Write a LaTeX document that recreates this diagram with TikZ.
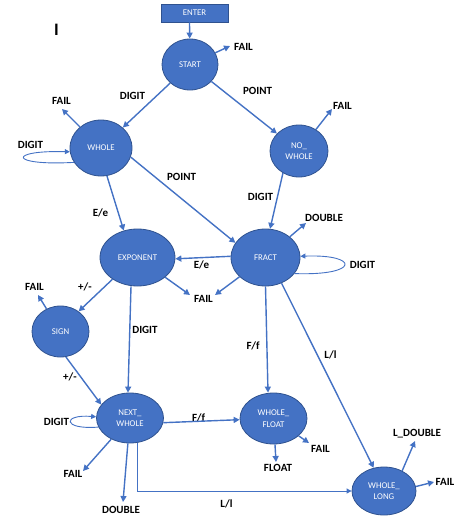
\documentclass[tikz,border=0pt]{standalone}
\usepackage{fontspec}
\setmainfont{Carlito}
\usetikzlibrary{shapes.geometric,arrows.meta}
\definecolor{nodeblue}{HTML}{4472C4}
\definecolor{nodeborder}{HTML}{2F528F}
\begin{document}
\begin{tikzpicture}[x=1pt,y=-1pt,
  state/.style={ellipse,fill=nodeblue,draw=nodeborder,line width=0.8pt,inner sep=0pt,text=white,font=\fontsize{8.8}{11.5}\selectfont,align=center},
  entrybox/.style={rectangle,fill=nodeblue,draw=nodeborder,line width=0.8pt,inner sep=0pt,text=white,font=\fontsize{8.8}{11.5}\selectfont},
  lbl/.style={font=\bfseries\fontsize{11}{13}\selectfont,inner sep=0pt,text height=7.1pt,text depth=0pt},
  arr/.style={draw=nodeblue,line width=1.4pt,-{Triangle[length=6pt,width=6pt]}},
  selfloop/.style={draw=nodeblue,line width=0.9pt,-{Triangle[length=5pt,width=5pt]}},
]
\useasboundingbox (0,0) rectangle (468,519);

% states
\node[entrybox,minimum width=67pt,minimum height=18pt] (ENTER) at (194.5,13) {ENTER};
\node[state,minimum width=56pt,minimum height=51pt] (START) at (190,64.5) {START};
\node[state,minimum width=62pt,minimum height=56pt] (WHOLE) at (101,148) {WHOLE};
\node[state,minimum width=58pt,minimum height=52pt] (NOWHOLE) at (299,151) {NO\_\\WHOLE};
\node[state,minimum width=69pt,minimum height=57pt] (FRACT) at (265.5,257.5) {FRACT};
\node[state,minimum width=75pt,minimum height=57pt] (EXPONENT) at (137.5,257.5) {EXPONENT};
\node[state,minimum width=57pt,minimum height=51pt] (SIGN) at (60.5,331.5) {SIGN};
\node[state,minimum width=67pt,minimum height=50pt] (NEXTWHOLE) at (130,418) {NEXT\_\\WHOLE};
\node[state,minimum width=67pt,minimum height=51pt] (WHOLEFLOAT) at (273.5,418.5) {WHOLE\_\\FLOAT};
\node[state,minimum width=64pt,minimum height=48pt] (WHOLELONG) at (384,491) {WHOLE\_\\LONG};

% stray mark
\node[font=\bfseries\fontsize{17.5}{19}\selectfont,inner sep=0pt] (mark) at (56.5,29.5) {I};

% free ends
\coordinate (fStart) at (230,46);
\coordinate (fWhole) at (62,109);
\coordinate (fNo) at (332,109);
\coordinate (dFract) at (306,223);
\coordinate (fExp) at (190,295);
\coordinate (fFract) at (215,295);
\coordinate (fSign) at (38,295);
\coordinate (fNext) at (83,471);
\coordinate (dNext) at (123,502);
\coordinate (flFloat) at (276,462);
\coordinate (fFloat) at (309,443);
\coordinate (ldLong) at (415,441);
\coordinate (fLong) at (434,482);

% labels
\node[lbl] (tFail1) at (243.5,46.5) {FAIL};
\node[lbl] (tDigit1) at (132.5,96) {DIGIT};
\node[lbl] (tPoint1) at (257.5,91) {POINT};
\node[lbl] (tFail2) at (61.5,101) {FAIL};
\node[lbl] (tDigit2) at (30.5,144.5) {DIGIT};
\node[lbl] (tFail3) at (342.5,105.5) {FAIL};
\node[lbl] (tPoint2) at (181.5,177) {POINT};
\node[lbl] (tDigit3) at (260.5,197) {DIGIT};
\node[lbl] (tEe1) at (100.5,212.5) {E/e};
\node[lbl] (tDouble1) at (324,217.5) {DOUBLE};
\node[lbl] (tDigit4) at (362.5,264.5) {DIGIT};
\node[lbl] (tEe2) at (201.5,264.5) {E/e};
\node[lbl] (tFail4) at (203.5,299) {FAIL};
\node[lbl] (tFail5) at (34.5,287) {FAIL};
\node[lbl] (tPm1) at (85,287) {+/-};
\node[lbl] (tDigit5) at (145,330) {DIGIT};
\node[lbl] (tFf1) at (253,345.5) {F/f};
\node[lbl] (tLl1) at (330.5,354.5) {L/l};
\node[lbl] (tPm2) at (70,377) {+/-};
\node[lbl] (tDigit6) at (56.5,422) {DIGIT};
\node[lbl] (tFf2) at (198.5,417.5) {F/f};
\node[lbl] (tFail6) at (73,474) {FAIL};
\node[lbl] (tDouble2) at (121,510) {DOUBLE};
\node[lbl] (tLl2) at (226.5,503.5) {L/l};
\node[lbl] (tFail7) at (320.5,449) {FAIL};
\node[lbl] (tFloat) at (278,468) {FLOAT};
\node[lbl] (tLDouble) at (417,433) {L\_DOUBLE};
\node[lbl] (tFail8) at (445,481.5) {FAIL};

% transitions
\draw[arr] ([xshift=-5pt]ENTER.south) -- (START);
\draw[arr] (START) -- (WHOLE);
\draw[arr] (START) -- (NOWHOLE);
\draw[arr] (WHOLE.-17) -- (FRACT.154);
\draw[arr] (NOWHOLE.234) -- (FRACT.81);
\draw[arr] (WHOLE.282) -- (EXPONENT.117);
\draw[arr] (FRACT.178) -- (EXPONENT.-2);
\draw[arr] (EXPONENT.221) -- (SIGN.48);
\draw[arr] ([xshift=-6.5pt]EXPONENT.south) -- ([xshift=-2pt]NEXTWHOLE.north);
\draw[arr] (FRACT.south) -- ([xshift=-5.5pt]WHOLEFLOAT.north);
\draw[arr] (FRACT.302) -- (WHOLELONG.114);
\draw[arr] (SIGN.282) -- (NEXTWHOLE.155);
\draw[arr] (NEXTWHOLE.-8) -- (WHOLEFLOAT.182);
\draw[selfloop] ([xshift=7pt]NEXTWHOLE.south) |- (WHOLELONG.west);

% self loops
\draw[selfloop] (WHOLE.208) .. controls (8,166) and (8,150) .. (WHOLE.187);
\draw[selfloop] (FRACT.331) .. controls (360,276) and (360,254) .. (FRACT.2);
\draw[selfloop] (NEXTWHOLE.196) .. controls (62,430) and (62,414) .. (NEXTWHOLE.178);

% exits
\draw[arr] (START) -- (fStart);
\draw[arr] (WHOLE) -- (fWhole);
\draw[arr] (NOWHOLE) -- (fNo);
\draw[arr] (FRACT) -- (dFract);
\draw[arr] (EXPONENT) -- (fExp);
\draw[arr] (FRACT) -- (fFract);
\draw[arr] (SIGN) -- (fSign);
\draw[arr] (NEXTWHOLE) -- (fNext);
\draw[arr] (NEXTWHOLE) -- (dNext);
\draw[arr] (WHOLEFLOAT) -- (flFloat);
\draw[arr] (WHOLEFLOAT) -- (fFloat);
\draw[arr] (WHOLELONG.48) -- (ldLong);
\draw[arr] (WHOLELONG.8) -- (fLong);
\end{tikzpicture}
\end{document}
